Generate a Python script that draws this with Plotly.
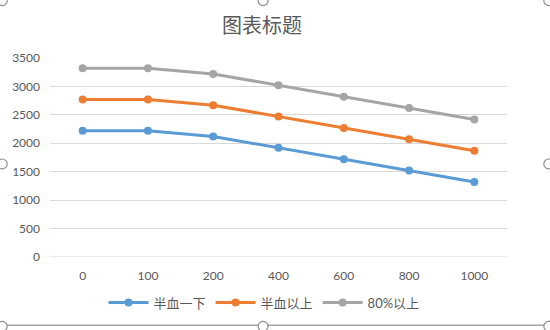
import plotly.graph_objects as go

categories = ["0", "100", "200", "400", "600", "800", "1000"]
half_below = [2220, 2220, 2120, 1920, 1720, 1520, 1320]
half_above = [2770, 2770, 2670, 2470, 2270, 2070, 1870]
above_80 = [3320, 3320, 3220, 3020, 2820, 2620, 2420]
names = ["半血一下", "半血以上", "80%以上"]
colors = ["#5B9BD5", "#ED7D31", "#A5A5A5"]

FONT = "Lato, Noto Sans CJK SC, sans-serif"
W, H = 550, 330
L, R, T, B = 48, 43, 58, 71
PW, PH = W - L - R, H - T - B


def px(x):
    return (x - L) / PW


def py(y):
    return (H - B - y) / PH


fig = go.Figure()
for name, vals, c in zip(names, [half_below, half_above, above_80], colors):
    fig.add_trace(go.Scatter(
        x=categories, y=vals, name=name, mode="lines+markers",
        line=dict(color=c, width=3),
        marker=dict(color=c, size=8),
    ))

fig.update_layout(
    width=W, height=H,
    margin=dict(l=L, r=R, t=T, b=B),
    paper_bgcolor="white", plot_bgcolor="white",
    title=dict(text="图表标题", x=262 / W, xanchor="center", y=1 - 26 / H, yanchor="middle",
               font=dict(family="Noto Sans CJK SC", size=20, color="#595959")),
    font=dict(family=FONT, size=12, color="#595959"),
    showlegend=True,
    legend=dict(orientation="h", x=px(263), xanchor="center", y=py(305), yanchor="middle",
                bgcolor="rgba(0,0,0,0)",
                font=dict(size=13, color="#595959"), itemwidth=40, traceorder="normal"),
    xaxis=dict(type="category", range=[-0.5, 6.5], showgrid=False, showline=False,
               ticks="", ticklabelstandoff=10, tickfont=dict(size=12, color="#595959"), zeroline=False),
    yaxis=dict(range=[0, 3500], dtick=500, showgrid=True, gridcolor="#D9D9D9", gridwidth=1,
               zeroline=False, showline=False, ticks="", ticklabelstandoff=9,
               tickfont=dict(size=12, color="#595959")),
)
fig.add_shape(type="line", xref="paper", yref="y", x0=0, x1=1, y0=0, y1=0,
              line=dict(color="#D9D9D9", width=1))
# chart-frame bottom edge and selection handles
fig.add_shape(type="line", xref="paper", yref="paper", x0=px(0), x1=px(549), y0=py(328), y1=py(328),
              line=dict(color="#A6A6A6", width=1.5))
for hx, hy in [(0, 0), (262, 0), (549, 0), (0, 165), (549, 165), (0, 329), (262, 329), (549, 329)]:
    fig.add_shape(type="circle", xref="paper", yref="paper",
                  x0=px(hx - 5), x1=px(hx + 5), y0=py(hy + 5), y1=py(hy - 5),
                  line=dict(color="#8C8C8C", width=1.2), fillcolor="white")

fig.write_html("out.html")
